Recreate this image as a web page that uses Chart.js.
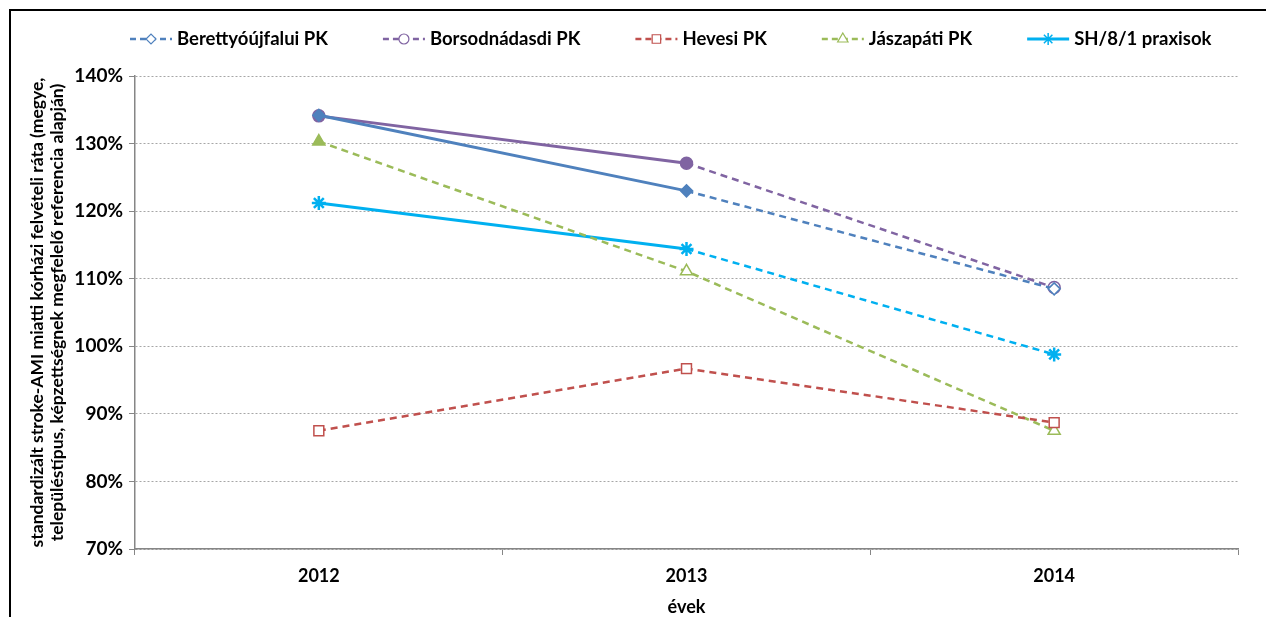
<!DOCTYPE html>
<html>
<head>
<meta charset="utf-8">
<script src="https://cdn.jsdelivr.net/npm/chart.js@4/dist/chart.umd.min.js"></script>
<style>
    body { margin: 0; background: #fff; }
    #wrap { position: relative; width: 1266px; height: 617px; }
    #frame { position: absolute; left: 9px; top: 9px; right: 0; bottom: 0;
             border-left: 2px solid #000; border-top: 2px solid #000; pointer-events: none; }
</style>
</head>
<body>
<div id="wrap">
    <canvas id="lineChart" width="1266" height="617"></canvas>
    <div id="frame"></div>
</div>
<script>
// Données
const years = ['2012', '2013', '2014'];
const seriesNames = ['Berettyóújfalui PK', 'Borsodnádasdi PK', 'Hevesi PK', 'Jászapáti PK', 'SH/8/1 praxisok'];
const berettyo = [134.2, 123.0, 108.5];
const borsod = [134.1, 127.1, 108.7];
const hevesi = [87.5, 96.7, 88.7];
const jaszapati = [130.3, 111.1, 87.5];
const sh = [121.2, 114.4, 98.8];
const yTickValues = [70, 80, 90, 100, 110, 120, 130, 140];

const FONT = 'Lato, "Open Sans", sans-serif';
const DASH = [7, 5];

// solide pour le 1er segment puis pointillé, ou tout en pointillé
function makeSet(label, data, color, style, radius, filled, solidFirst, legendSolid) {
    return {
        label: label,
        data: data,
        borderColor: color,
        backgroundColor: color,
        borderWidth: 2.5,
        pointStyle: style,
        pointRadius: radius,
        pointHoverRadius: radius,
        pointBorderColor: color,
        pointBackgroundColor: filled.map(f => f ? color : '#ffffff'),
        pointBorderWidth: style === 'star' ? 2.5 : 1.5,
        tension: 0,
        legendSolid: legendSolid,
        segment: {
            borderDash: ctx => (solidFirst && ctx.p0DataIndex === 0) ? [] : DASH,
            borderWidth: ctx => (solidFirst && ctx.p0DataIndex === 0) ? 3 : 2.5
        }
    };
}

const legendPlugin = {
    id: 'excelLegend',
    afterDraw(chart) {
        const ctx = chart.ctx;
        const y = 39;
        let x = 130;
        ctx.save();
        ctx.font = 'bold 18.5px ' + FONT;
        ctx.textBaseline = 'middle';
        chart.data.datasets.forEach(ds => {
            ctx.strokeStyle = ds.borderColor;
            ctx.lineWidth = ds.legendSolid ? 3 : 2.5;
            ctx.setLineDash(ds.legendSolid ? [] : [6, 4]);
            ctx.beginPath();
            ctx.moveTo(x, y);
            ctx.lineTo(x + 42, y);
            ctx.stroke();
            ctx.setLineDash([]);
            ctx.fillStyle = '#ffffff';
            ctx.lineWidth = ds.pointStyle === 'star' ? 1.5 : 1.2;
            Chart.helpers.drawPoint(ctx, {
                pointStyle: ds.pointStyle,
                radius: ds.pointRadius - 1,
                borderWidth: ctx.lineWidth
            }, x + 21, y);
            ctx.fillStyle = '#000000';
            ctx.fillText(ds.label, x + 47, y);
            x += 47 + ctx.measureText(ds.label).width + 55;
        });
        ctx.restore();
    }
};

const ctxLine = document.getElementById('lineChart').getContext('2d');

new Chart(ctxLine, {
    type: 'line',
    data: {
        labels: years,
        datasets: [
            makeSet(seriesNames[0], berettyo, '#4F81BD', 'rectRot', 6, [true, true, false], true, false),
            makeSet(seriesNames[1], borsod, '#8064A2', 'circle', 6, [true, true, false], true, false),
            makeSet(seriesNames[2], hevesi, '#C0504D', 'rect', 7, [false, false, false], false, false),
            makeSet(seriesNames[3], jaszapati, '#9BBB59', 'triangle', 7, [true, false, false], false, false),
            makeSet(seriesNames[4], sh, '#00B0F0', 'star', 7, [true, true, true], true, true)
        ]
    },
    options: {
        responsive: false,
        animation: false,
        layout: { padding: { left: 0, right: 28, top: 76, bottom: 0 } },
        scales: {
            x: {
                offset: true,
                grid: {
                    offset: true,
                    drawOnChartArea: false,
                    drawTicks: true,
                    tickLength: 6,
                    tickColor: '#868686',
                    color: '#868686'
                },
                border: { color: '#868686', width: 1.5 },
                ticks: {
                    color: '#000000',
                    padding: 10,
                    font: { family: FONT, size: 18, weight: 'bold' }
                },
                title: {
                    display: true,
                    text: 'évek',
                    color: '#000000',
                    padding: { top: 0, bottom: 0 },
                    font: { family: FONT, size: 18, weight: 'bold', lineHeight: 1.1 }
                },
                afterFit: s => { s.height = 68; }
            },
            y: {
                min: 70,
                max: 140,
                afterBuildTicks: s => { s.ticks = yTickValues.map(v => ({ value: v })); },
                grid: {
                    color: '#a6a6a6',
                    lineWidth: 1,
                    drawTicks: true,
                    tickLength: 6,
                    tickColor: '#868686'
                },
                border: { color: '#868686', width: 1.5, dash: [2, 2] },
                ticks: {
                    color: '#000000',
                    padding: 6,
                    callback: v => v + '%',
                    font: { family: FONT, size: 19, weight: 'bold' }
                },
                title: {
                    display: true,
                    text: ['standardizált stroke-AMI miatti kórházi felvételi ráta (megye,',
                           'településtípus, képzettségnek megfelelő referencia alapján)'],
                    color: '#000000',
                    padding: { top: 28, bottom: 0 },
                    font: { family: FONT, size: 17.5, weight: 'bold', lineHeight: 1.1 }
                },
                afterFit: s => { s.width = 135; }
            }
        },
        plugins: {
            legend: { display: false },
            tooltip: { enabled: false }
        }
    },
    plugins: [legendPlugin]
});
</script>
</body>
</html>
